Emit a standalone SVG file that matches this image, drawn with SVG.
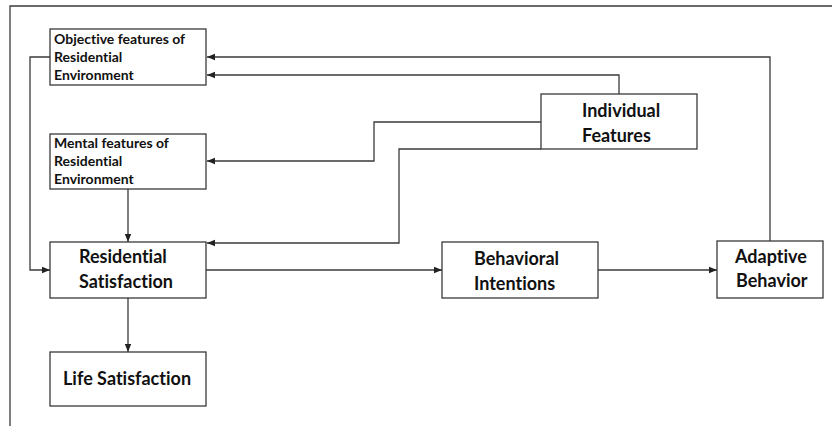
<svg xmlns="http://www.w3.org/2000/svg" width="832" height="426" viewBox="0 0 832 426">
<style>
.box{fill:#fff;stroke:#3a3a3a;stroke-width:1.3}
.ln{fill:none;stroke:#3a3a3a;stroke-width:1.3}
.s{font-family:Lato,"Open Sans",sans-serif;font-weight:bold;font-size:14px;fill:#111;font-variant-ligatures:none}
.b{font-family:Lato,"Open Sans",sans-serif;font-weight:bold;font-size:18px;fill:#111;font-variant-ligatures:none}
</style>
<defs>
<marker id="ah" viewBox="0 0 10 10" refX="10" refY="5" markerWidth="8" markerHeight="8" markerUnits="userSpaceOnUse" orient="auto">
<path d="M0,1 L10,5 L0,9 Z" fill="#222"/>
</marker>
</defs>
<rect width="832" height="426" fill="#fff"/>
<path class="ln" d="M10,426 V6 H832"/>
<g id="connectors">
<path class="ln" d="M50,57 H30 V270 H50" marker-end="url(#ah)"/>
<path class="ln" d="M770,241 V57 H207" marker-end="url(#ah)"/>
<path class="ln" d="M619,94 V75 H207" marker-end="url(#ah)"/>
<path class="ln" d="M541,122 H374 V161 H207" marker-end="url(#ah)"/>
<path class="ln" d="M541,149 H399 V243 H207" marker-end="url(#ah)"/>
<path class="ln" d="M128,189 V242" marker-end="url(#ah)"/>
<path class="ln" d="M128,298 V352" marker-end="url(#ah)"/>
<path class="ln" d="M206,270 H442" marker-end="url(#ah)"/>
<path class="ln" d="M598,270 H717" marker-end="url(#ah)"/>
</g>
<g id="objective">
<rect class="box" x="50" y="29" width="156" height="56"/>
<text class="s" x="54" y="44">Objective features of</text>
<text class="s" x="54" y="62">Residential</text>
<text class="s" x="54" y="80">Environment</text>
</g>
<g id="mental">
<rect class="box" x="50" y="134" width="156" height="55"/>
<text class="s" x="54" y="148">Mental features of</text>
<text class="s" x="54" y="166">Residential</text>
<text class="s" x="54" y="184">Environment</text>
</g>
<g id="individual">
<rect class="box" x="541" y="94" width="156" height="55"/>
<text class="b" x="582" y="117">Individual</text>
<text class="b" x="582" y="142">Features</text>
</g>
<g id="residential">
<rect class="box" x="50" y="242" width="156" height="56"/>
<text class="b" x="79" y="263">Residential</text>
<text class="b" x="79" y="288">Satisfaction</text>
</g>
<g id="life">
<rect class="box" x="50" y="352" width="156" height="54"/>
<text class="b" x="63" y="385">Life Satisfaction</text>
</g>
<g id="behavioral">
<rect class="box" x="442" y="242" width="156" height="56"/>
<text class="b" x="474" y="265">Behavioral</text>
<text class="b" x="474" y="290">Intentions</text>
</g>
<g id="adaptive">
<rect class="box" x="717" y="241" width="106" height="57"/>
<text class="b" x="735" y="263">Adaptive</text>
<text class="b" x="736" y="287">Behavior</text>
</g>
</svg>
